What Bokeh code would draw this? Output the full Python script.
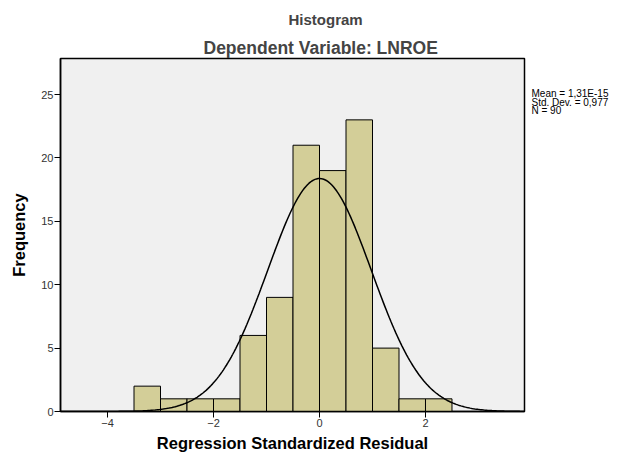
import numpy as np
from bokeh.plotting import figure
from bokeh.layouts import row
from bokeh.models import Range1d, Title, Label, FixedTicker
from bokeh.embed import file_html
from bokeh.resources import INLINE

# ---- data ----
bin_left = [-3.5, -3.0, -2.5, -2.0, -1.5, -1.0, -0.5, 0.0, 0.5, 1.0, 1.5, 2.0]
bin_width = 0.5
counts = [2, 1, 1, 1, 6, 9, 21, 19, 23, 5, 1, 1]
x_ticks = [-4, -2, 0, 2]
y_ticks = [0, 5, 10, 15, 20, 25]
stat_mean = 1.31e-15
stat_sd = 0.977
stat_n = 90
stats_lines = ["Mean = 1,31E-15", "Std. Dev. = 0,977", "N = 90"]

FONT = "Liberation Sans"
x_start, x_end = -4.887, 3.868

p = figure(width=526, height=457, output_backend="svg", toolbar_location=None,
           x_range=Range1d(x_start, x_end), y_range=Range1d(0, 27.84),
           min_border_left=60, min_border_right=2, min_border_top=58, min_border_bottom=46)

p.background_fill_color = "#F0F0F0"
p.border_fill_color = "white"
p.outline_line_color = "black"
p.outline_line_width = 1.5
p.grid.visible = False

bin_right = [b + bin_width for b in bin_left]
p.quad(left=bin_left, right=bin_right, bottom=0, top=counts,
       fill_color="#D3CE98", line_color="black", line_width=1)

# fitted normal curve from the stated statistics
xs = np.linspace(x_start, x_end, 300)
ys = stat_n * bin_width * np.exp(-0.5 * ((xs - stat_mean) / stat_sd) ** 2) / (stat_sd * np.sqrt(2 * np.pi))
p.line(xs, ys, line_color="black", line_width=1.5)

for ax in (p.xaxis[0], p.yaxis[0]):
    ax.axis_line_color = "black"
    ax.axis_line_width = 1.5
    ax.major_tick_in = 0
    ax.major_tick_out = 6
    ax.major_tick_line_color = "black"
    ax.minor_tick_line_color = None
    ax.major_label_text_font = FONT
    ax.major_label_text_font_size = "11px"
    ax.major_label_text_color = "#333333"
    ax.axis_label_text_font = FONT
    ax.axis_label_text_font_style = "bold"
    ax.axis_label_text_font_size = "16.5px"
    ax.axis_label_text_color = "black"

p.xaxis.ticker = FixedTicker(ticks=x_ticks)
p.yaxis.ticker = FixedTicker(ticks=y_ticks)
p.xaxis.axis_label = "Regression Standardized Residual"
p.yaxis.axis_label = "Frequency"
p.xaxis.major_label_standoff = 1
p.xaxis.axis_label_standoff = 4
p.yaxis.major_label_standoff = 1
p.yaxis.axis_label_standoff = 10

p.add_layout(Title(text="Dependent Variable: LNROE", align="left", offset=143,
                   text_font=FONT, text_font_size="17.5px", text_font_style="bold",
                   standoff=2), "above")
p.add_layout(Title(text="Histogram", align="left", offset=228,
                   text_font=FONT, text_font_size="15px", text_font_style="bold",
                   standoff=13), "above")

# side panel carrying the statistics text (outside the plot frame);
# its frame is aligned with the main frame (58..411 px from top)
side = figure(width=102, height=457, output_backend="svg", toolbar_location=None,
              x_range=Range1d(0, 102), y_range=Range1d(411, 58),
              x_axis_type=None, y_axis_type=None,
              min_border_left=0, min_border_right=0, min_border_top=0, min_border_bottom=0)
side.outline_line_color = None
side.grid.visible = False
side.background_fill_color = "white"
side.border_fill_color = "white"
line_y = [93, 101.5, 110]
for txt, yy in zip(stats_lines, line_y):
    side.add_layout(Label(x=5, y=yy, text=txt, text_font=FONT,
                          text_font_size="10px", text_color="black",
                          text_baseline="middle", text_align="left"))

layout = row(p, side, spacing=0)
open("out.html", "w").write(file_html(layout, INLINE))
